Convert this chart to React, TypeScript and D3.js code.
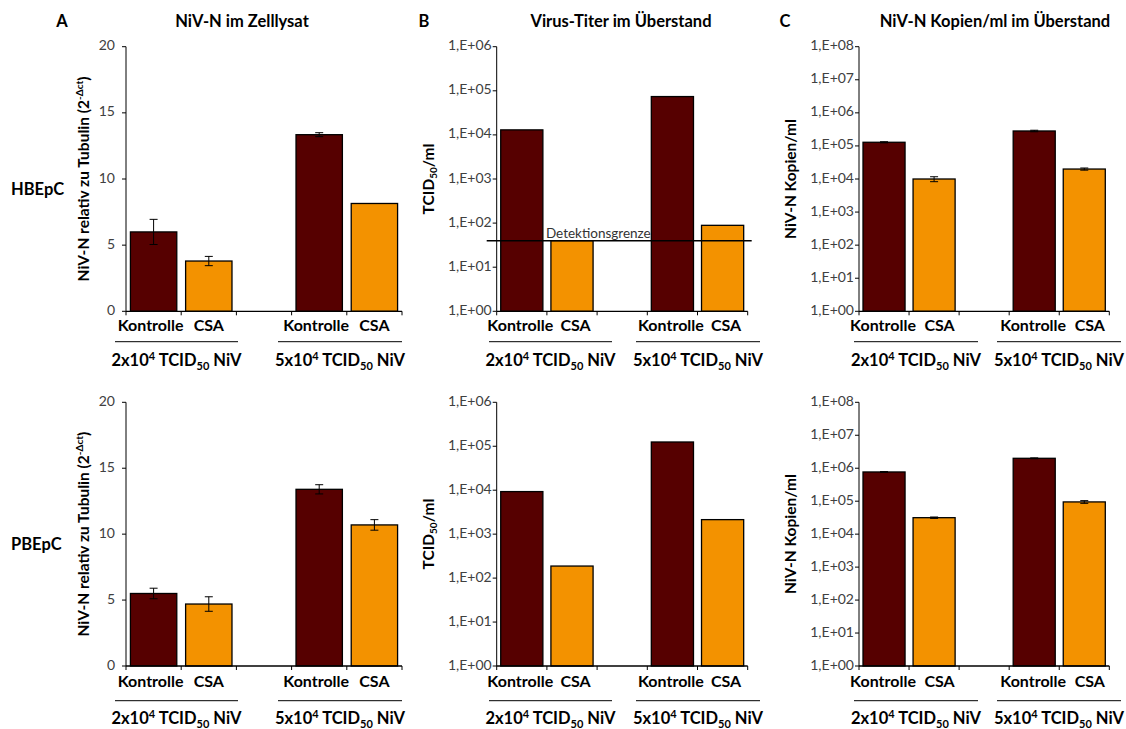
import React from "react";
import * as d3 from "d3";

// Category slots along each x axis (a blank slot separates the two infection doses)
const slots = ["K1", "C1", "gap", "K2", "C2"];
const barSlots = ["K1", "C1", "K2", "C2"];
const treatments = ["Kontrolle", "CSA", "Kontrolle", "CSA"];
const doseFactors = ["2", "5"];
const rowLabels = ["HBEpC", "PBEpC"];
const panelLetters = ["A", "B", "C"];
const panelTitles = ["NiV-N im Zelllysat", "Virus-Titer im Überstand", "NiV-N Kopien/ml im Überstand"];

// A: NiV-N relative to tubulin (2^-Δct)
const lysateHBEpC = [6.0, 3.8, 13.35, 8.15];
const lysateHBEpCErr = [0.95, 0.35, 0.15, 0];
const lysatePBEpC = [5.5, 4.7, 13.4, 10.7];
const lysatePBEpCErr = [0.4, 0.55, 0.35, 0.4];

// B: virus titre (TCID50/ml)
const titerHBEpC = [13000, 40, 74000, 89];
const titerPBEpC = [9300, 188, 125000, 2140];
const detectionLimit = 40;

// C: NiV-N copies/ml
const copiesHBEpC = [129000, 10000, 283000, 20000];
const copiesHBEpCErr = [5000, 1700, 15000, 1500];
const copiesPBEpC = [770000, 31600, 2000000, 95000];
const copiesPBEpCErr = [20000, 1500, 60000, 9000];

const linearTicks = [0, 5, 10, 15, 20];
const titerTicks = [1, 1e1, 1e2, 1e3, 1e4, 1e5, 1e6];
const copiesTicks = [1, 1e1, 1e2, 1e3, 1e4, 1e5, 1e6, 1e7, 1e8];

const FONT = "Lato, 'Open Sans', sans-serif";
const DARK = "#560000";
const ORANGE = "#F39200";

// labelShift nudges the "Kontrolle" / "CSA" labels apart so they never touch
const columns = [
  { x0: 126, x1: 402, tickGap: 11, titleX: 85, labelShift: [-3, 0], spans: [[115, 238], [278, 402]] },
  { x0: 496.7, x1: 747.7, tickGap: 5, titleX: 430, labelShift: [-1.5, 3.5], spans: [[489, 612], [636, 760]] },
  { x0: 859, x1: 1109.3, tickGap: 5, titleX: 792, labelShift: [-1, 5.5], spans: [[854, 978], [997, 1121]] },
];
const rows = [
  { top: 46.7, bottom: 311.3, catY: 331, lineY: 341.7, groupY: 366, labelY: 195 },
  { top: 402.3, bottom: 666, catY: 687, lineY: 700.7, groupY: 724, labelY: 550 },
];

const logFormat = (d: number) => `1,E+${String(Math.round(Math.log10(d))).padStart(2, "0")}`;

type PanelProps = {
  col: number;
  row: number;
  values: number[];
  errors?: number[];
  log: boolean;
  ticks: number[];
  limit?: number;
};

function YTitle({ col, cy }: { col: number; cy: number }) {
  const x = columns[col].titleX;
  const common = {
    transform: `translate(${x},${cy}) rotate(-90)`,
    textAnchor: "middle" as const,
    fontFamily: FONT,
    fontWeight: 700,
    fontSize: 15.5,
    dominantBaseline: "middle" as const,
  };
  if (col === 0)
    return (
      <text {...common}>
        NiV-N relativ zu Tubulin (2
        <tspan fontSize={10} dy={-5}>-Δct</tspan>
        <tspan dy={5}>)</tspan>
      </text>
    );
  if (col === 1)
    return (
      <text {...common}>
        TCID<tspan fontSize={10} dy={4}>50</tspan>
        <tspan dy={-4}>/ml</tspan>
      </text>
    );
  return <text {...common}>NiV-N Kopien/ml</text>;
}

function Panel({ col, row, values, errors, log, ticks, limit }: PanelProps) {
  const c = columns[col];
  const r = rows[row];
  const x = d3.scaleBand<string>().domain(slots).range([c.x0, c.x1]).padding(0);
  const y = log
    ? d3.scaleLog().domain([ticks[0], ticks[ticks.length - 1]]).range([r.bottom, r.top])
    : d3.scaleLinear().domain([ticks[0], ticks[ticks.length - 1]]).range([r.bottom, r.top]);
  const bw = x.bandwidth() * 0.84;
  const boundaries = slots.map((s) => x(s)!).concat([c.x1]);
  return (
    <g>
      {/* bars */}
      {barSlots.map((s, i) => {
        const cx = x(s)! + x.bandwidth() / 2;
        const yTop = y(values[i]);
        return (
          <rect
            key={s}
            x={cx - bw / 2}
            y={yTop}
            width={bw}
            height={r.bottom - yTop}
            fill={i % 2 === 0 ? DARK : ORANGE}
            stroke="#000"
            strokeWidth={1.3}
          />
        );
      })}
      {/* error bars */}
      {errors &&
        barSlots.map((s, i) => {
          const e = errors[i];
          if (!e) return null;
          const cx = x(s)! + x.bandwidth() / 2;
          const y1 = y(values[i] + e);
          const y2 = y(values[i] - e);
          return (
            <g key={s} stroke="#000" strokeWidth={1}>
              <line x1={cx} x2={cx} y1={y1} y2={y2} />
              <line x1={cx - 4} x2={cx + 4} y1={y1} y2={y1} />
              <line x1={cx - 4} x2={cx + 4} y1={y2} y2={y2} />
            </g>
          );
        })}
      {/* y axis */}
      <line x1={c.x0} x2={c.x0} y1={r.top} y2={r.bottom} stroke="#000" strokeWidth={1} />
      {ticks.map((t) => (
        <g key={t}>
          <line x1={c.x0 - 4} x2={c.x0} y1={y(t)} y2={y(t)} stroke="#000" strokeWidth={1} />
          <text
            x={c.x0 - c.tickGap}
            y={y(t)}
            textAnchor="end"
            dominantBaseline="middle"
            fontFamily={FONT}
            fontSize={14}
            fill="#404040"
          >
            {log ? logFormat(t) : t}
          </text>
        </g>
      ))}
      {/* x axis */}
      <line x1={c.x0} x2={c.x1} y1={r.bottom} y2={r.bottom} stroke="#000" strokeWidth={1.3} />
      {boundaries.map((bx, i) => (
        <line key={i} x1={bx} x2={bx} y1={r.bottom} y2={r.bottom + 4} stroke="#000" strokeWidth={1} />
      ))}
      {/* detection limit */}
      {limit !== undefined && (
        <g>
          <line x1={c.x0 - 10} x2={c.x1 + 4} y1={y(limit)} y2={y(limit)} stroke="#000" strokeWidth={1.5} />
          <text
            x={x("C1")! + x.bandwidth() / 2 - bw / 2 - 5}
            y={y(limit) - 3}
            fontFamily={FONT}
            fontSize={13.5}
            fill="#333"
          >
            Detektionsgrenze
          </text>
        </g>
      )}
      {/* category labels */}
      {barSlots.map((s, i) => (
        <text
          key={s}
          x={x(s)! + x.bandwidth() / 2 + c.labelShift[i % 2]}
          y={r.catY}
          textAnchor="middle"
          fontFamily={FONT}
          fontWeight={700}
          fontSize={16}
        >
          {treatments[i]}
        </text>
      ))}
      {/* dose group lines and labels */}
      {c.spans.map(([a, b], g) => (
        <g key={g}>
          <line x1={a} x2={b} y1={r.lineY} y2={r.lineY} stroke="#000" strokeWidth={1} />
          <text
            x={(a + b) / 2}
            y={r.groupY}
            textAnchor="middle"
            fontFamily={FONT}
            fontWeight={700}
            fontSize={16.5}
          >
            {doseFactors[g]}x10<tspan fontSize={11} dy={-6}>4</tspan>
            <tspan dy={6}> TCID</tspan>
            <tspan fontSize={11} dy={4}>50</tspan>
            <tspan dy={-4}> NiV</tspan>
          </text>
        </g>
      ))}
      <YTitle col={col} cy={(r.top + r.bottom) / 2} />
    </g>
  );
}

export default function App() {
  const letterX = [62, 424, 785];
  const titleX = [242, 621, 995];
  return (
    <svg
      width={1126}
      height={729}
      style={{ position: "absolute", left: 0, top: 0, background: "#fff" }}
    >
      <rect width={1126} height={729} fill="#fff" />
      {panelLetters.map((l, i) => (
        <g key={l}>
          <text x={letterX[i]} y={27} textAnchor="middle" fontFamily={FONT} fontWeight={700} fontSize={16.5}>
            {l}
          </text>
          <text x={titleX[i]} y={27} textAnchor="middle" fontFamily={FONT} fontWeight={700} fontSize={16.5}>
            {panelTitles[i]}
          </text>
        </g>
      ))}
      {rowLabels.map((l, i) => (
        <text key={l} x={11} y={rows[i].labelY} fontFamily={FONT} fontWeight={700} fontSize={16.5}>
          {l}
        </text>
      ))}
      <Panel col={0} row={0} values={lysateHBEpC} errors={lysateHBEpCErr} log={false} ticks={linearTicks} />
      <Panel col={0} row={1} values={lysatePBEpC} errors={lysatePBEpCErr} log={false} ticks={linearTicks} />
      <Panel col={1} row={0} values={titerHBEpC} log={true} ticks={titerTicks} limit={detectionLimit} />
      <Panel col={1} row={1} values={titerPBEpC} log={true} ticks={titerTicks} />
      <Panel col={2} row={0} values={copiesHBEpC} errors={copiesHBEpCErr} log={true} ticks={copiesTicks} />
      <Panel col={2} row={1} values={copiesPBEpC} errors={copiesPBEpCErr} log={true} ticks={copiesTicks} />
    </svg>
  );
}
